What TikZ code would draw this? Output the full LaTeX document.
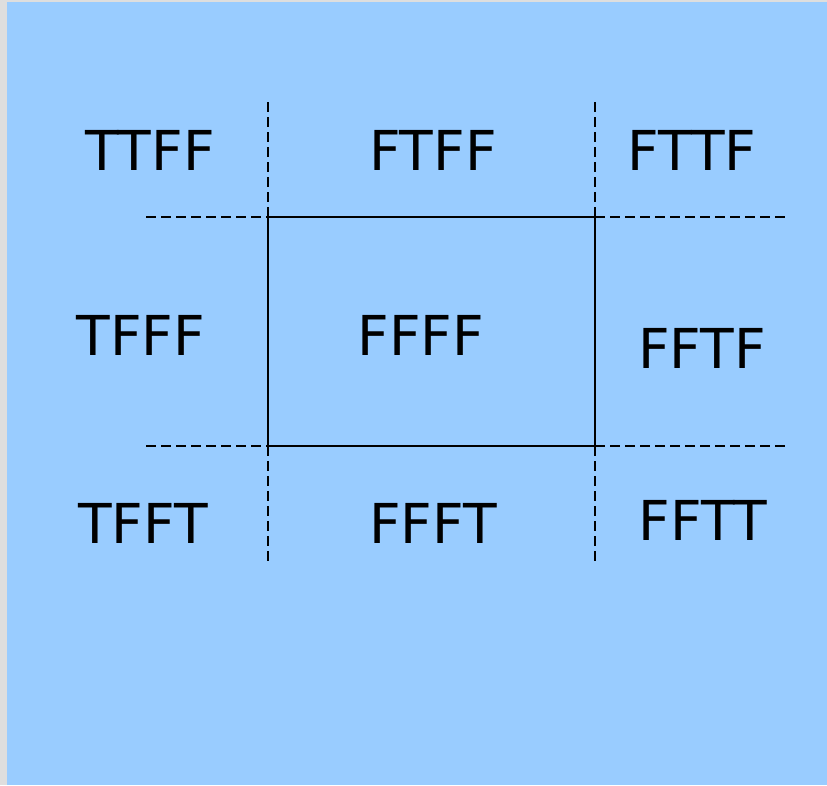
\documentclass[tikz,border=0pt]{standalone}
\usepackage{fontspec}
\setmainfont{DejaVu Sans}
\usepackage{tikz}
\definecolor{skyfill}{HTML}{99CCFF}
\definecolor{checkgray}{HTML}{DEDEDE}

\begin{document}
\begin{tikzpicture}[x=1pt, y=-1pt,
    cell/.style={inner sep=0pt, font=\fontsize{55}{60}\selectfont},
    grid/.style={line width=2.4pt, dash pattern=on 10pt off 5pt},
    box/.style={line width=2.4pt}]
  \fill[checkgray] (0,0) rectangle (827,785);
  \fill[skyfill] (7,2) rectangle (827,785);
  \useasboundingbox (0,0) rectangle (827,785);
  % corners of the box
  \coordinate (nw) at (268,217);
  \coordinate (ne) at (595,217);
  \coordinate (sw) at (268,446);
  \coordinate (se) at (595,446);
  % free ends of the dashed lines
  \coordinate (nwl) at (146,217);
  \coordinate (ner) at (786,217);
  \coordinate (swl) at (146,446);
  \coordinate (ser) at (786,446);
  \coordinate (nwt) at (268,102);
  \coordinate (net) at (595,102);
  \coordinate (swb) at (268,562);
  \coordinate (seb) at (595,562);
  % labels
  \node[cell] (ttff) at (150,150) {TTFF};
  \node[cell] (ftff) at (433,150) {FTFF};
  \node[cell] (fttf) at (692,150) {FTTF};
  \node[cell] (tfff) at (141,335) {TFFF};
  \node[cell] (ffff) at (421,335) {FFFF};
  \node[cell] (fftf) at (702,348) {FFTF};
  \node[cell] (tfft) at (143,523) {TFFT};
  \node[cell] (ffft) at (433,523) {FFFT};
  \node[cell] (fftt) at (703,520) {FFTT};
  % box and dashed lines
  \draw[box] (nw) rectangle (se);
  \draw[grid] (nwl) -- (nw);
  \draw[grid] (ne) -- (ner);
  \draw[grid] (swl) -- (sw);
  \draw[grid] (se) -- (ser);
  \draw[grid] (nwt) -- (nw);
  \draw[grid] (net) -- (ne);
  \draw[grid] (sw) -- (swb);
  \draw[grid] (se) -- (seb);
\end{tikzpicture}
\end{document}
